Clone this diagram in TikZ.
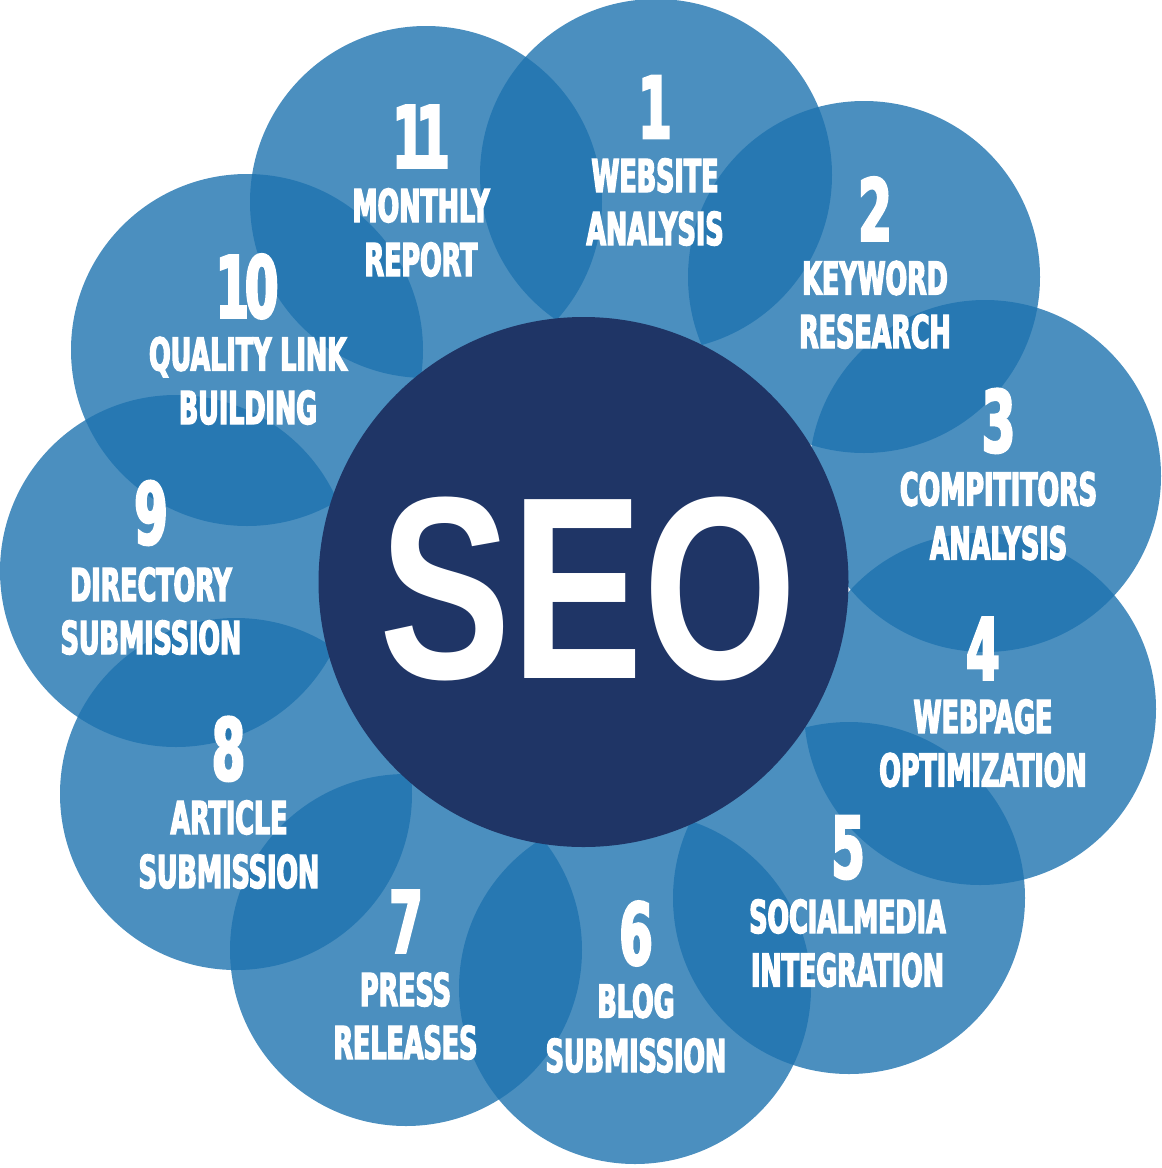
\documentclass[tikz,border=0pt]{standalone}
\usepackage{fontspec}
\newfontfamily\seofont[FakeStretch=0.76]{Liberation Sans Bold}
\newfontfamily\stepfont[FakeStretch=0.56,FakeBold=3]{DejaVu Sans Bold}

\tikzset{every picture/.style={line width=0.75pt}}
\tikzset{
  bubble/.style={draw=none, fill={rgb, 255:red, 30; green, 115; blue, 175 }, fill opacity=0.8},
  core/.style={draw=none, fill={rgb, 255:red, 31; green, 53; blue, 102 }},
  stepnum/.style={anchor=base, inner sep=0pt, text=white, font=\stepfont\fontsize{64}{70}\selectfont},
  steplabel/.style={anchor=base, inner sep=0pt, text=white, font=\stepfont\fontsize{34}{40}\selectfont},
  seolabel/.style={anchor=base, inner sep=0pt, text=white, font=\seofont\fontsize{195}{200}\selectfont}
}

\begin{document}
\begin{tikzpicture}[x=0.75pt,y=0.75pt,yscale=-1,xscale=1]
\path [use as bounding box] (0,0) rectangle (1162,1168);

%Shape: Circle 1
\draw [bubble] (656,175) circle [radius=176];
%Shape: Circle 2
\draw [bubble] (864,277) circle [radius=176];
%Shape: Circle 3
\draw [bubble] (985,476) circle [radius=176];
%Shape: Circle 4
\draw [bubble] (980,709) circle [radius=176];
%Shape: Circle 5
\draw [bubble] (849,898) circle [radius=176];
%Shape: Circle 6
\draw [bubble] (635,988) circle [radius=176];
%Shape: Circle 7
\draw [bubble] (406,950) circle [radius=176];
%Shape: Circle 8
\draw [bubble] (236,794) circle [radius=176];
%Shape: Circle 9
\draw [bubble] (176,571) circle [radius=176];
%Shape: Circle 10
\draw [bubble] (247,350) circle [radius=176];
%Shape: Circle 11
\draw [bubble] (426,202) circle [radius=176];
%Shape: Circle centre
\draw [core] (583.5,582) circle [radius=265];

% Text Node
\node [seolabel] (seo) at (588.5,678) {SEO};

% Text Node
\node [stepnum] (num1) at (655,138) {1};
\node [steplabel] (lab1a) at (655,192) {WEBSITE};
\node [steplabel] (lab1b) at (655,245) {ANALYSIS};
% Text Node
\node [stepnum] (num2) at (875,240.5) {2};
\node [steplabel] (lab2a) at (875,294.5) {KEYWORD};
\node [steplabel] (lab2b) at (875,348) {RESEARCH};
% Text Node
\node [stepnum] (num3) at (998.5,452) {3};
\node [steplabel] (lab3a) at (998.5,505.5) {COMPITITORS};
\node [steplabel] (lab3b) at (998.5,559.5) {ANALYSIS};
% Text Node
\node [stepnum] (num4) at (983,679.5) {4};
\node [steplabel] (lab4a) at (983,733) {WEBPAGE};
\node [steplabel] (lab4b) at (983,786.5) {OPTIMIZATION};
% Text Node
\node [stepnum] (num5) at (848,878) {5};
\node [steplabel] (lab5a) at (847.5,933) {SOCIALMEDIA};
\node [steplabel] (lab5b) at (847.5,986.5) {INTEGRATION};
% Text Node
\node [stepnum] (num6) at (636,964.5) {6};
\node [steplabel] (lab6a) at (636,1017.5) {BLOG};
\node [steplabel] (lab6b) at (636,1072) {SUBMISSION};
% Text Node
\node [stepnum] (num7) at (406,952.5) {7};
\node [steplabel] (lab7a) at (405.5,1006) {PRESS};
\node [steplabel] (lab7b) at (405.5,1059) {RELEASES};
% Text Node
\node [stepnum] (num8) at (228.5,780) {8};
\node [steplabel] (lab8a) at (229,834) {ARTICLE};
\node [steplabel] (lab8b) at (229,888) {SUBMISSION};
% Text Node
\node [stepnum] (num9) at (151,544) {9};
\node [steplabel] (lab9a) at (151,601) {DIRECTORY};
\node [steplabel] (lab9b) at (151,654) {SUBMISSION};
% Text Node
\node [stepnum] (num10) at (247,317.5) {1\kern-3pt0};
\node [steplabel] (lab10a) at (248,370.5) {QUALITY LINK};
\node [steplabel] (lab10b) at (248,424) {BUILDING};
% Text Node
\node [stepnum] (num11) at (421,167.5) {1\kern-7pt1};
\node [steplabel] (lab11a) at (421,222) {MONTHLY};
\node [steplabel] (lab11b) at (421,276) {REPORT};

\end{tikzpicture}
\end{document}
